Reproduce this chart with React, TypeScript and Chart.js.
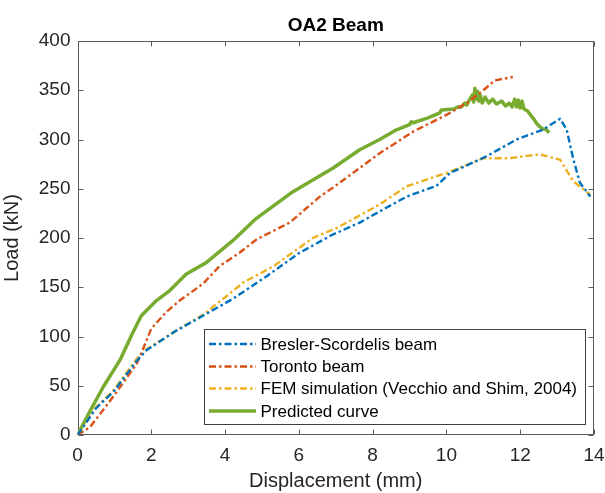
import React, { useEffect, useRef } from "react";
import { Chart, registerables } from "chart.js";

Chart.register(...registerables);

const titleText = "OA2 Beam";
const xTitle = "Displacement (mm)";
const yTitle = "Load (kN)";

const bsX = [0, 0.5, 1.0, 1.6, 1.87, 2.68, 3.4, 4.2, 5.12, 6.02, 6.92, 7.65, 8.19, 8.92, 9.73, 10.1, 11.09, 11.9, 12.62, 13.08, 13.26, 13.44, 13.62, 13.9];
const bsY = [0, 27, 45, 75, 86, 106, 121, 138, 161, 185, 203.5, 215.6, 227, 242, 253, 266, 283, 300, 310, 321, 310, 280, 256, 242];

const toX = [0, 0.34, 0.97, 1.6, 1.73, 2.0, 2.41, 2.77, 3.4, 3.85, 4.39, 4.85, 5.75, 6.57, 6.92, 8.19, 9.1, 10.0, 10.55, 11.0, 11.31, 11.8];
const toY = [0, 8, 39, 72, 83, 108, 125, 136.5, 153.5, 171.5, 185, 198.5, 215.6, 242, 251, 286, 308, 325, 337, 350, 360, 363.5];

const feX = [0, 0.5, 0.97, 1.6, 1.87, 2.68, 3.4, 3.94, 4.5, 5.3, 6.38, 7.02, 8.19, 8.92, 10.0, 11.0, 11.72, 12.53, 13.08, 13.44, 13.9];
const feY = [0, 28, 45, 77, 87, 106, 122, 138, 155, 171, 200, 210, 234, 252.5, 266, 281, 281, 285, 279.5, 257.5, 244];

const prX = [0, 0.35, 0.7, 1.15, 1.5, 1.73, 2.14, 2.5, 2.95, 3.49, 4.2, 4.85, 5.84, 6.93, 7.65, 8.19, 8.6, 9.0, 9.05, 9.1, 9.5, 9.82, 9.86, 10.2, 10.3, 10.4, 10.5, 10.55, 10.62, 10.7, 10.74, 10.77, 10.8, 10.84, 10.88, 10.92, 10.97, 11.05, 11.15, 11.25, 11.36, 11.5, 11.6, 11.7, 11.78, 11.85, 11.9, 11.95, 12.0, 12.05, 12.1, 12.2, 12.3, 12.4, 12.45, 12.53, 12.6, 12.7, 12.79];
const prY = [0, 25, 49, 76, 104, 121, 136.5, 146.6, 163.5, 175, 197, 220, 247, 271, 289.6, 300, 309, 315, 318, 317, 322, 327, 330, 331, 333, 333, 337, 335, 340, 345, 338, 352, 341, 349, 339, 345, 337, 343, 337, 341, 336, 339, 334, 337, 333, 341, 333, 340, 332, 339, 331, 329, 324, 319, 316, 313, 311, 310, 307];

const seriesNames = [
  "Bresler-Scordelis beam",
  "Toronto beam",
  "FEM simulation (Vecchio and Shim, 2004)",
  "Predicted curve",
];
const seriesColors = ["#0072BD", "#D95319", "#EDB120", "#77AC30"];

const FONT = "'Liberation Sans', Arial, Helvetica, sans-serif";
const TEXT = "#262626";
const DASHDOT = [7, 3, 2.5, 3];

const pts = (xs: number[], ys: number[]) => xs.map((x, i) => ({ x, y: ys[i] }));

const framePlugin = {
  id: "frame",
  beforeDatasetsDraw(chart: any) {
    const { ctx, chartArea: a, scales } = chart;
    ctx.save();
    ctx.strokeStyle = "#5a5a5a";
    ctx.lineWidth = 1;
    const L = Math.round(a.left) + 0.5;
    const R = Math.round(a.right) - 0.5;
    const T = Math.round(a.top) + 0.5;
    const B = Math.round(a.bottom) - 0.5;
    ctx.beginPath();
    ctx.rect(L, T, R - L, B - T);
    ctx.stroke();
    const tl = 5;
    ctx.beginPath();
    scales.x.ticks.forEach((t: any) => {
      const px = Math.round(scales.x.getPixelForValue(t.value)) + 0.5;
      ctx.moveTo(px, B); ctx.lineTo(px, B - tl);
      ctx.moveTo(px, T); ctx.lineTo(px, T + tl);
    });
    scales.y.ticks.forEach((t: any) => {
      const py = Math.round(scales.y.getPixelForValue(t.value)) + 0.5;
      ctx.moveTo(L, py); ctx.lineTo(L + tl, py);
      ctx.moveTo(R, py); ctx.lineTo(R - tl, py);
    });
    ctx.stroke();
    ctx.restore();
  },
  afterDraw(chart: any) {
    const { ctx, chartArea: a } = chart;
    ctx.save();
    ctx.fillStyle = "#000";
    ctx.font = `bold 19px ${FONT}`;
    ctx.textAlign = "center";
    ctx.textBaseline = "bottom";
    ctx.fillText(titleText, (a.left + a.right) / 2, a.top - 6);
    const bx = 204.5, by = 329.5, bw = 381, bh = 95;
    ctx.fillStyle = "#fff";
    ctx.fillRect(bx, by, bw, bh);
    ctx.strokeStyle = "#404040";
    ctx.lineWidth = 1;
    ctx.strokeRect(bx, by, bw, bh);
    ctx.font = `17px ${FONT}`;
    ctx.textAlign = "left";
    ctx.textBaseline = "middle";
    const rows = [344, 366.5, 388.5, 411];
    chart.data.datasets.forEach((ds: any, i: number) => {
      const y = rows[i];
      ctx.strokeStyle = ds.borderColor;
      ctx.lineWidth = ds.borderWidth;
      ctx.setLineDash(ds.borderDash || []);
      ctx.beginPath();
      ctx.moveTo(209, y);
      ctx.lineTo(256, y);
      ctx.stroke();
      ctx.setLineDash([]);
      ctx.fillStyle = "#000";
      ctx.fillText(ds.label, 260.5, y + 1);
    });
    ctx.restore();
  },
};

export default function App() {
  const ref = useRef<HTMLCanvasElement>(null);
  useEffect(() => {
    document.body.style.margin = "0";
    const ds = [
      { x: bsX, y: bsY, dash: DASHDOT, w: 2.4 },
      { x: toX, y: toY, dash: DASHDOT, w: 2.4 },
      { x: feX, y: feY, dash: DASHDOT, w: 2.4 },
      { x: prX, y: prY, dash: [], w: 3.5 },
    ];
    const chart = new Chart(ref.current as HTMLCanvasElement, {
      type: "scatter",
      data: {
        datasets: ds.map((d, i) => ({
          label: seriesNames[i],
          data: pts(d.x, d.y),
          showLine: true,
          borderColor: seriesColors[i],
          backgroundColor: seriesColors[i],
          borderWidth: d.w,
          borderDash: d.dash,
          borderJoinStyle: "round",
          pointRadius: 0,
          tension: 0,
          fill: false,
        })),
      },
      options: {
        animation: false,
        responsive: true,
        maintainAspectRatio: false,
        layout: { padding: { top: 41, right: 11, left: 0, bottom: 0 } },
        plugins: { legend: { display: false }, title: { display: false }, tooltip: { enabled: false } },
        scales: {
          x: {
            type: "linear",
            min: 0,
            max: 14,
            grid: { display: false, drawTicks: false },
            border: { display: false },
            ticks: { stepSize: 2, color: TEXT, font: { family: FONT, size: 19 }, padding: 9, maxRotation: 0 },
            title: { display: true, text: xTitle, color: TEXT, font: { family: FONT, size: 20 }, padding: { top: 2, bottom: 0 } },
            afterFit: (s: any) => { s.height = 58; s.paddingRight = 0; s.paddingLeft = 0; },
          },
          y: {
            type: "linear",
            min: 0,
            max: 400,
            grid: { display: false, drawTicks: false },
            border: { display: false },
            ticks: { stepSize: 50, color: TEXT, font: { family: FONT, size: 19 }, padding: 7 },
            title: { display: true, text: yTitle, color: TEXT, font: { family: FONT, size: 20 }, padding: { top: 0, bottom: 0 } },
            afterFit: (s: any) => { s.width = 77.5; s.paddingTop = 0; s.paddingBottom = 0; },
          },
        },
      },
      plugins: [framePlugin],
    } as any);
    return () => chart.destroy();
  }, []);
  return (
    <div style={{ position: "absolute", left: 0, top: 0, width: 605, height: 493, background: "#fff" }}>
      <canvas ref={ref} />
    </div>
  );
}
